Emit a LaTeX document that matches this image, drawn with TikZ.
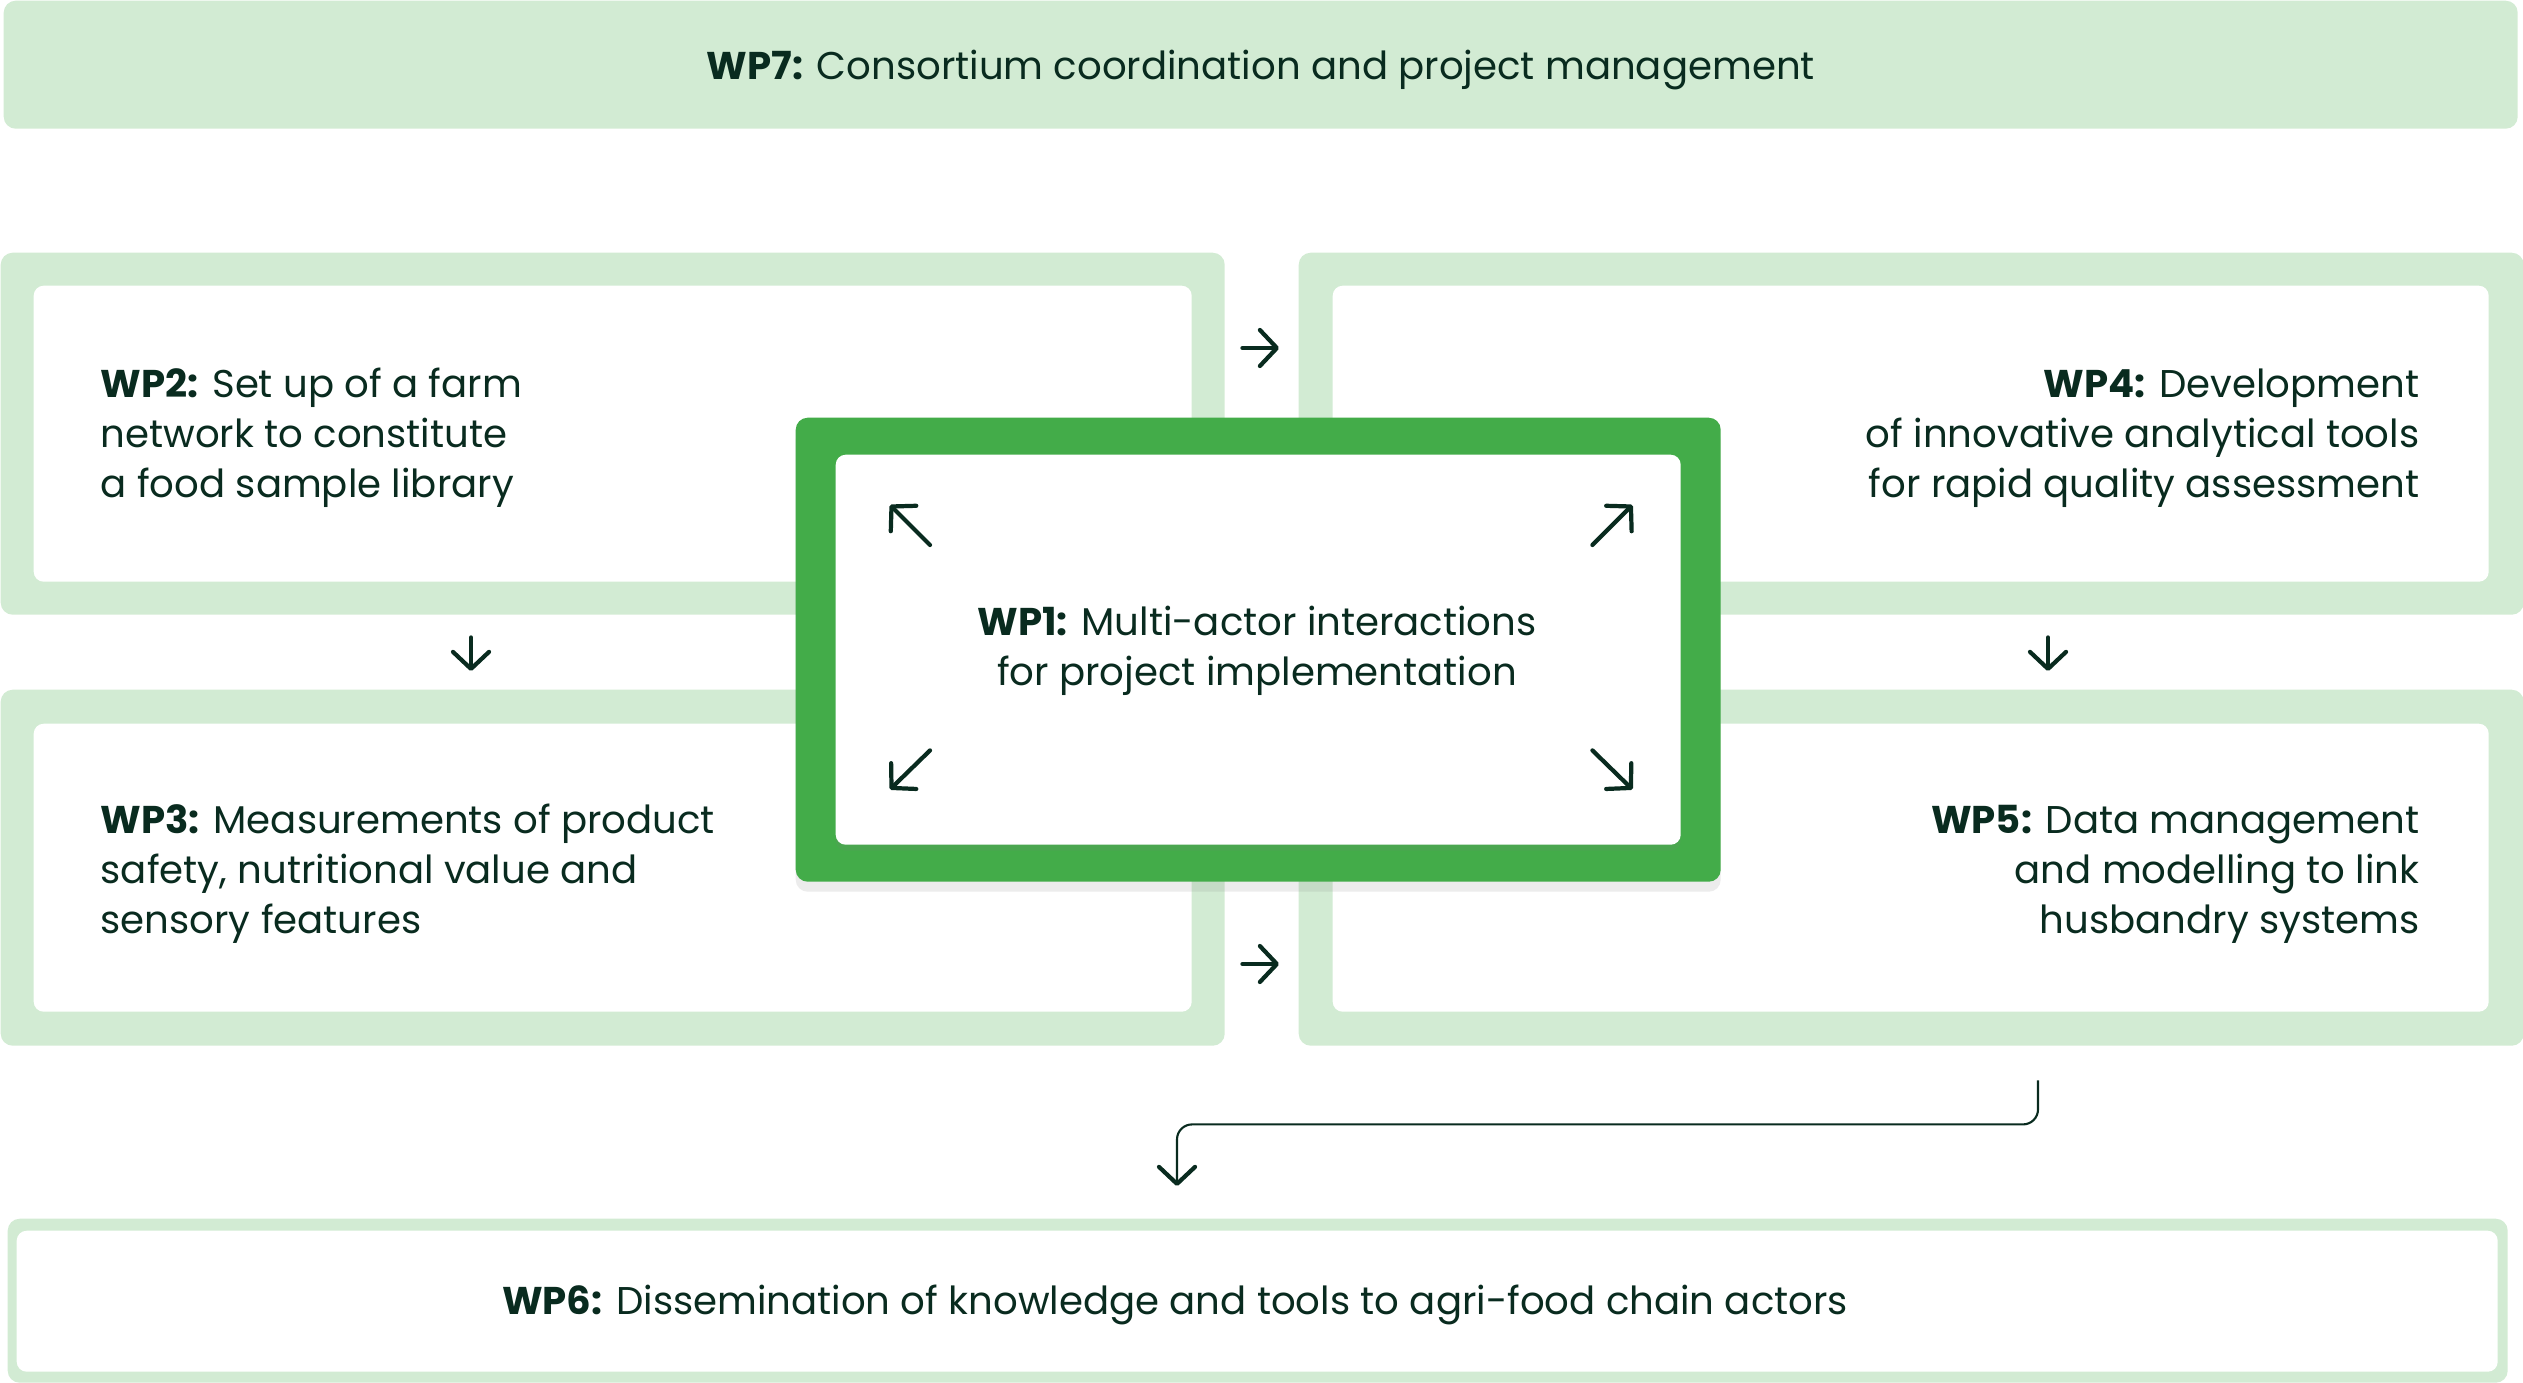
\documentclass[tikz,border=0pt]{standalone}
\usepackage{fontspec}
\setmainfont{Poppins}
\usetikzlibrary{arrows.meta, calc, shadows}

\definecolor{wplight}{RGB}{210,235,211}
\definecolor{wpgreen}{RGB}{67,172,73}
\definecolor{wpink}{RGB}{9,43,31}

\tikzset{
  outerbox/.style={fill=wplight, rounded corners=0.12cm, inner sep=0pt, anchor=north west},
  innerbox/.style={fill=white, rounded corners=0.1cm, inner sep=0pt, anchor=north west},
  wptext/.style={text=wpink, font=\fontsize{11}{14.2}\selectfont, inner sep=0pt},
  flowarrow/.style={draw=wpink, line width=1.2pt, line cap=round,
    -{Straight Barb[length=0.17cm, width=0.36cm, round]}},
  thinarrow/.style={draw=wpink, line width=0.6pt,
    -{Straight Barb[length=0.17cm, width=0.36cm, line width=1.2pt, round]}},
}

\begin{document}
\begin{tikzpicture}[x=1cm, y=-1cm]
  \useasboundingbox (0,0) rectangle (25.23,13.83);

  % top bar
  \node[outerbox, minimum width=25.14cm, minimum height=1.28cm] (wp7) at (0.03,0) {};
  \node[wptext] (wp7txt) at ([yshift=-0.05cm]wp7.center) {\textbf{WP7:} Consortium coordination and project management};

  % four work package boxes
  \node[outerbox, minimum width=12.24cm, minimum height=3.62cm] (wp2) at (0,2.52) {};
  \node[innerbox, minimum width=11.58cm, minimum height=2.96cm] (wp2in) at (0.33,2.85) {};
  \node[outerbox, minimum width=12.24cm, minimum height=3.56cm] (wp3) at (0,6.89) {};
  \node[innerbox, minimum width=11.58cm, minimum height=2.88cm] (wp3in) at (0.33,7.23) {};
  \node[outerbox, minimum width=12.25cm, minimum height=3.62cm] (wp4) at (12.98,2.52) {};
  \node[innerbox, minimum width=11.56cm, minimum height=2.96cm] (wp4in) at (13.32,2.85) {};
  \node[outerbox, minimum width=12.25cm, minimum height=3.56cm] (wp5) at (12.98,6.89) {};
  \node[innerbox, minimum width=11.56cm, minimum height=2.88cm] (wp5in) at (13.32,7.23) {};

  \node[wptext, anchor=west, align=left] (wp2txt) at (1.00,4.38)
    {\textbf{WP2:} Set up of a farm\\network to constitute\\a food sample library};
  \node[wptext, anchor=west, align=left] (wp3txt) at (1.00,8.74)
    {\textbf{WP3:} Measurements of product\\safety, nutritional value and\\sensory features};
  \node[wptext, anchor=east, align=right] (wp4txt) at (24.20,4.38)
    {\textbf{WP4:} Development\\of innovative analytical tools\\for rapid quality assessment};
  \node[wptext, anchor=east, align=right] (wp5txt) at (24.20,8.74)
    {\textbf{WP5:} Data management\\and modelling to link\\husbandry systems};

  % central box
  \node[outerbox, fill=wpgreen, minimum width=9.25cm, minimum height=4.64cm,
    drop shadow={opacity=0.15, shadow xshift=0pt, shadow yshift=-0.10cm}] (wp1) at (7.95,4.17) {};
  \node[innerbox, minimum width=8.45cm, minimum height=3.90cm,
    drop shadow={opacity=0.12, shadow xshift=0pt, shadow yshift=-0.06cm}] (wp1in) at (8.35,4.54) {};
  \node[wptext, align=center] (wp1txt) at (12.57,6.51)
    {\textbf{WP1:} Multi-actor interactions\\for project implementation};

  \draw[flowarrow] ([shift={(0.95,0.91)}]wp1in.north west) -- ([shift={(0.55,0.51)}]wp1in.north west);
  \draw[flowarrow] ([shift={(-0.89,0.91)}]wp1in.north east) -- ([shift={(-0.49,0.51)}]wp1in.north east);
  \draw[flowarrow] ([shift={(0.95,-0.95)}]wp1in.south west) -- ([shift={(0.55,-0.56)}]wp1in.south west);
  \draw[flowarrow] ([shift={(-0.89,-0.95)}]wp1in.south east) -- ([shift={(-0.49,-0.56)}]wp1in.south east);

  % bottom box
  \node[outerbox, minimum width=25.00cm, minimum height=1.64cm] (wp6) at (0.07,12.18) {};
  \node[innerbox, minimum width=24.81cm, minimum height=1.41cm] (wp6in) at (0.16,12.30) {};
  \node[wptext] (wp6txt) at (11.75,13.05)
    {\textbf{WP6:} Dissemination of knowledge and tools to agri-food chain actors};

  % connectors
  \coordinate (toprow) at (0,3.48);
  \coordinate (botrow) at (0,9.64);
  \coordinate (leftcol) at (4.71,0);
  \coordinate (rightcol) at (20.48,0);
  \coordinate (bendcol) at (20.38,0);
  \coordinate (dropcol) at (11.77,0);

  \draw[flowarrow, shorten <=0.17cm, shorten >=0.19cm] (wp2.east |- toprow) -- (wp4.west |- toprow);
  \draw[flowarrow, shorten <=0.17cm, shorten >=0.19cm] (wp3.east |- botrow) -- (wp5.west |- botrow);
  \draw[flowarrow, shorten <=0.22cm, shorten >=0.18cm] (wp2.south -| leftcol) -- (wp3.north -| leftcol);
  \draw[flowarrow, shorten <=0.22cm, shorten >=0.18cm] (wp4.south -| rightcol) -- (wp5.north -| rightcol);
  \draw[thinarrow, rounded corners=0.15cm] ([yshift=-0.34cm]wp5.south -| bendcol) -- ++(0,0.44)
    -| ([yshift=0.32cm]wp6.north -| dropcol);
\end{tikzpicture}
\end{document}
